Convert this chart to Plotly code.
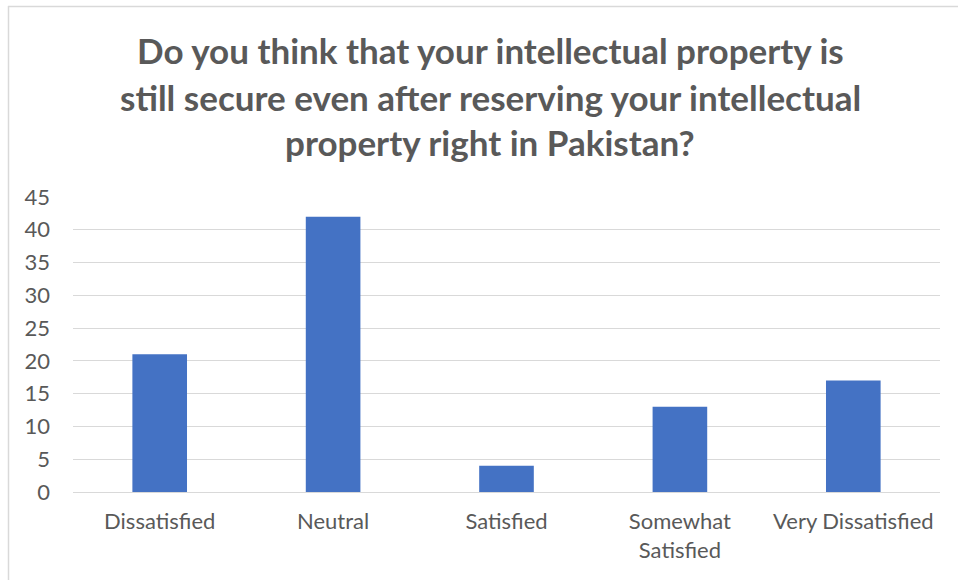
import plotly.graph_objects as go

categories = ["Dissatisfied", "Neutral", "Satisfied", "Somewhat<br>Satisfied", "Very Dissatisfied"]
values = [21, 42, 4, 13, 17]
title_lines = [
    "Do you think that your intellectual property is",
    "still secure even after reserving your intellectual",
    "property right in Pakistan?",
]
y_ticks = [0, 5, 10, 15, 20, 25, 30, 35, 40, 45]

W, H = 958, 580
L, R, T, B = 73, 18, 197, 88
pw, ph = W - L - R, H - T - B

def px(x):
    return (x - L) / pw

def py(y):
    return (H - B - y) / ph

TXT = "#595959"
GRID = "#d9d9d9"
FONT = "Lato"

fig = go.Figure(go.Bar(
    x=categories, y=values, marker=dict(color="#4472C4", line=dict(width=0)),
    width=0.315,
))

annotations = []
for i, (line, yc) in enumerate(zip(title_lines, [50, 97, 142])):
    annotations.append(dict(
        text=f"<b>{line}</b>", xref="paper", yref="paper", x=px(490), y=py(yc),
        xanchor="center", yanchor="middle", showarrow=False,
        font=dict(family=FONT, size=35, color=TXT),
    ))

shapes = [
    dict(type="line", xref="paper", yref="paper", x0=px(8), x1=px(W + 5), y0=py(6.5), y1=py(6.5),
         line=dict(color=GRID, width=1.5)),
    dict(type="line", xref="paper", yref="paper", x0=px(8.5), x1=px(8.5), y0=py(6), y1=py(H + 5),
         line=dict(color=GRID, width=1.5)),
]

fig.update_layout(
    width=W, height=H,
    margin=dict(l=L, r=R, t=T, b=B),
    paper_bgcolor="white", plot_bgcolor="white",
    showlegend=False,
    annotations=annotations,
    shapes=shapes,
    font=dict(family=FONT, color=TXT),
    xaxis=dict(
        showgrid=False, showline=False, zeroline=False, ticks="",
        tickfont=dict(family=FONT, size=22, color=TXT), ticklabelstandoff=14,
    ),
    yaxis=dict(
        range=[0, 45], tickvals=y_ticks, showgrid=True, gridcolor=GRID, gridwidth=1,
        zeroline=True, zerolinecolor=GRID, zerolinewidth=1, showline=False, ticks="",
        tickfont=dict(family=FONT, size=22, color=TXT), ticklabelstandoff=22,
    ),
    bargap=0.685,
)

fig.write_html("out.html")
